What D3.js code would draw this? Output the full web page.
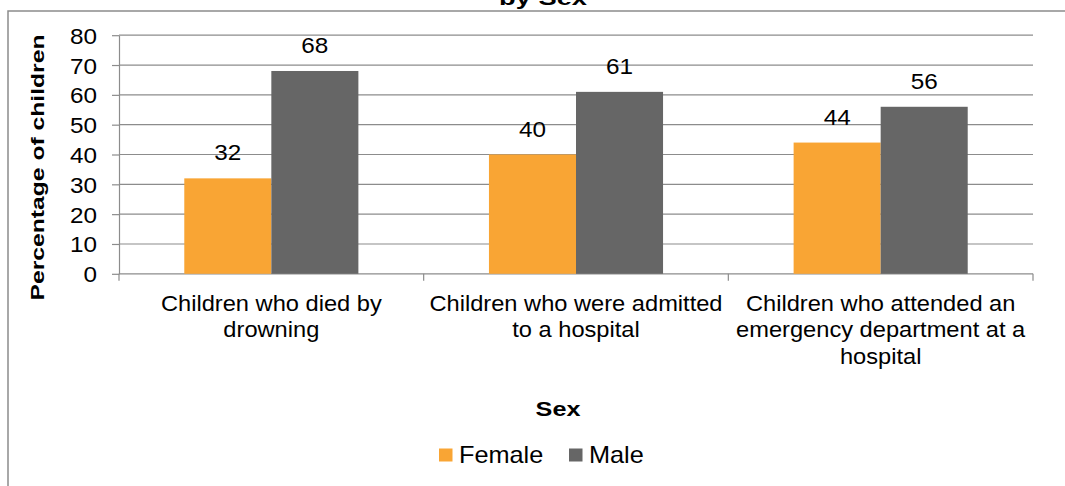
<!DOCTYPE html>
<html>
<head>
<meta charset="utf-8">
<script src="https://cdn.jsdelivr.net/npm/d3@7"></script>
<style>
  html, body { margin: 0; padding: 0; background: #fff; }
  svg { display: block; }
  text { font-family: "Liberation Sans", Arial, sans-serif; fill: #000; }
</style>
</head>
<body>
<svg id="chart" width="1065" height="486"></svg>
<script>
// Drowning-related outcomes among children, split by sex (percent)
const categories = [
  "Children who died by drowning",
  "Children who were admitted to a hospital",
  "Children who attended an emergency department at a hospital"
];
const categoryLines = [
  ["Children who died by", "drowning"],
  ["Children who were admitted", "to a hospital"],
  ["Children who attended an", "emergency department at a", "hospital"]
];
const series = ["Female", "Male"];
const femaleValues = [32, 40, 44];
const maleValues = [68, 61, 56];
const yTicks = [0, 10, 20, 30, 40, 50, 60, 70, 80];

const colors = { Female: "#F9A534", Male: "#666666" };
const gridColor = "#8c8c8c";

const svg = d3.select("#chart");

// text helper with optional horizontal widening
function label(g, x, y, str, opts = {}) {
  const s = opts.sx || 1.1;
  return g.append("text")
    .attr("transform", `translate(${x},${y}) scale(${s},1)`)
    .attr("text-anchor", opts.anchor || "middle")
    .attr("font-size", opts.size || 22)
    .attr("font-weight", opts.bold ? "bold" : "normal")
    .text(str);
}

// outer frame
svg.append("path")
  .attr("d", "M8,490 L8,11 L1070,11")
  .attr("fill", "none")
  .attr("stroke", gridColor)
  .attr("stroke-width", 1.5);

// title (partly above the frame)
label(svg, 543, 4.5, "by Sex", { size: 21, bold: true, sx: 1.3 });

const plot = { left: 119, right: 1033, top: 35.2, bottom: 273.8 };

const x = d3.scaleBand().domain(categories).range([plot.left, plot.right]).padding(0);
const xs = d3.scaleBand().domain(series).range([0, x.bandwidth()]).paddingInner(0).paddingOuter(0.75);
const y = d3.scaleLinear().domain([0, 80]).range([plot.bottom, plot.top]);

// gridlines
svg.append("g")
  .selectAll("line")
  .data(yTicks.filter(d => d > 0))
  .join("line")
  .attr("x1", plot.left).attr("x2", plot.right)
  .attr("y1", d => y(d)).attr("y2", d => y(d))
  .attr("stroke", gridColor).attr("stroke-width", 1.2);

// y axis
const yAxis = svg.append("g")
  .attr("transform", `translate(${plot.left},0)`)
  .call(d3.axisLeft(y).tickValues(yTicks).tickSize(7).tickPadding(0).tickSizeOuter(0));
yAxis.select(".domain").attr("stroke", gridColor).attr("stroke-width", 1.2);
yAxis.selectAll(".tick line").attr("stroke", gridColor).attr("stroke-width", 1.2);
yAxis.selectAll(".tick text")
  .attr("x", 0).attr("dy", null).attr("y", 0)
  .attr("transform", `translate(-22,8) scale(1.08,1)`)
  .attr("font-size", 22.5)
  .attr("font-family", "Liberation Sans, Arial, sans-serif")
  .attr("fill", "#000");

// x axis with ticks on band boundaries
const xAxis = svg.append("g")
  .attr("transform", `translate(0,${plot.bottom})`);
xAxis.append("line")
  .attr("x1", plot.left).attr("x2", plot.right)
  .attr("stroke", gridColor).attr("stroke-width", 1.2);
const boundaries = categories.map(c => x(c)).concat([x(categories[categories.length - 1]) + x.bandwidth()]);
xAxis.selectAll("line.tk")
  .data(boundaries)
  .join("line")
  .attr("class", "tk")
  .attr("x1", d => d).attr("x2", d => d)
  .attr("y1", 0).attr("y2", 7)
  .attr("stroke", gridColor).attr("stroke-width", 1.2);

// bars
const rows = categories.map((c, i) => ({ cat: c, Female: femaleValues[i], Male: maleValues[i] }));
const groups = svg.append("g").selectAll("g")
  .data(rows)
  .join("g")
  .attr("transform", d => `translate(${x(d.cat)},0)`);

groups.selectAll("rect")
  .data(d => series.map(s => ({ s, v: d[s] })))
  .join("rect")
  .attr("x", d => xs(d.s))
  .attr("width", xs.bandwidth())
  .attr("y", d => y(d.v))
  .attr("height", d => y(0) - y(d.v))
  .attr("fill", d => colors[d.s]);

// value labels
groups.each(function (d) {
  const g = d3.select(this);
  series.forEach(s => {
    label(g, xs(s) + xs.bandwidth() / 2, y(d[s]) - 18, d[s], { size: 22.5, sx: 1.08 });
  });
});

// category labels
categories.forEach((c, i) => {
  const cx = x(c) + x.bandwidth() / 2;
  categoryLines[i].forEach((line, j) => {
    label(svg, cx, 310.5 + j * 26.5, line, { size: 21.5, sx: 1.1 });
  });
});

// axis titles
svg.append("text")
  .attr("transform", `translate(43.5,167.5) rotate(-90) scale(1.3,1)`)
  .attr("text-anchor", "middle")
  .attr("font-size", 19)
  .attr("font-weight", "bold")
  .text("Percentage of children");

label(svg, 558, 415.5, "Sex", { size: 21, bold: true, sx: 1.2 });

// legend
const legendItems = [
  { s: "Female", x: 439 },
  { s: "Male", x: 569 }
];
const lg = svg.append("g");
legendItems.forEach(it => {
  lg.append("rect")
    .attr("x", it.x).attr("y", 448.5)
    .attr("width", 13.5).attr("height", 13)
    .attr("fill", colors[it.s]);
  label(lg, it.x + 20, 462.5, it.s, { size: 23, anchor: "start", sx: 1.1 });
});
</script>
</body>
</html>
